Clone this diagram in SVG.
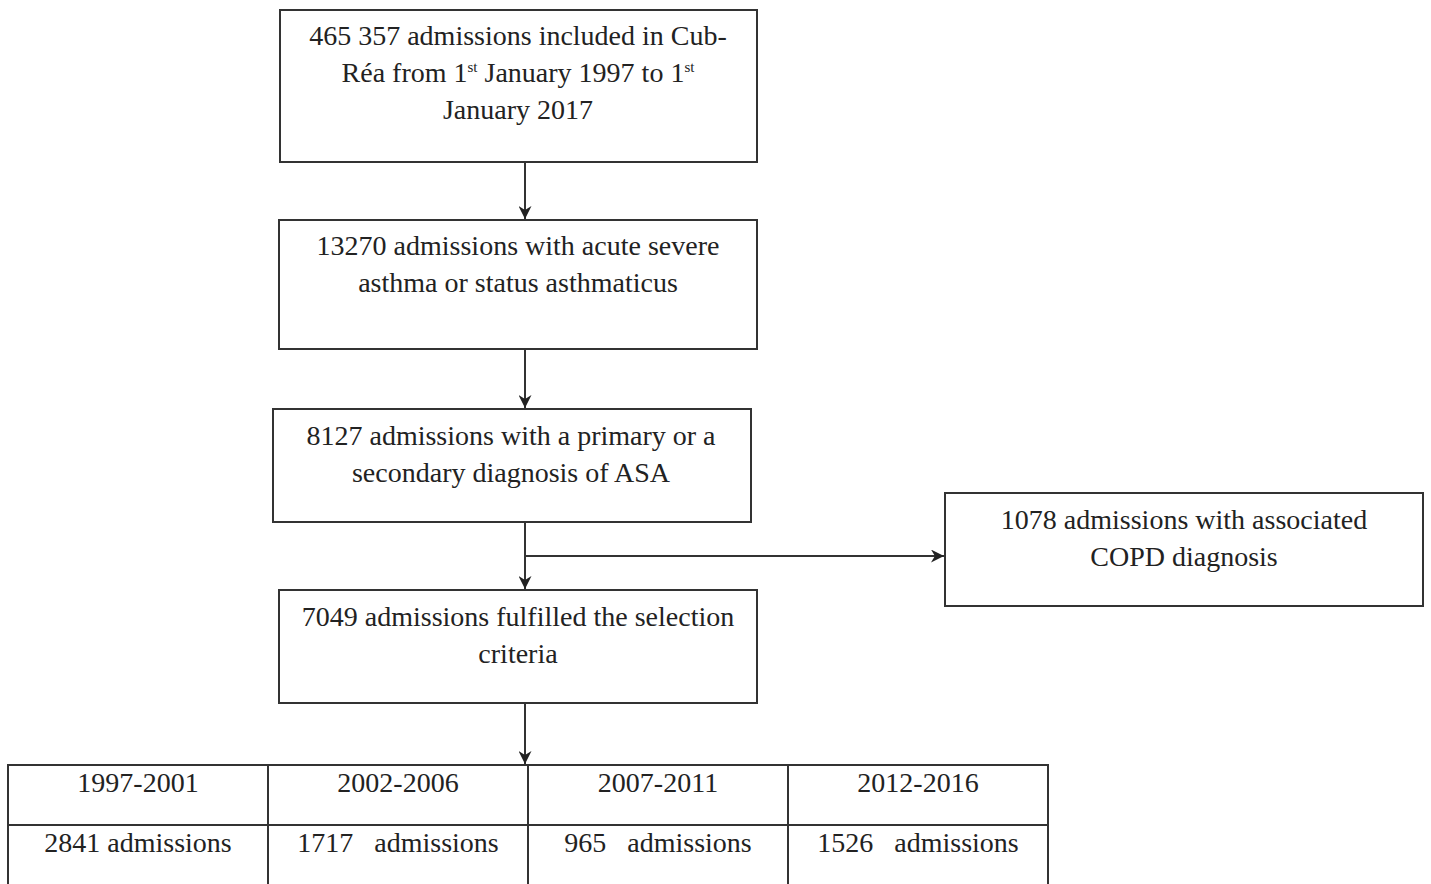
<svg xmlns="http://www.w3.org/2000/svg" width="1431" height="884" viewBox="0 0 1431 884">
<style>
.box{fill:#fff;stroke:#333;stroke-width:2}
.t{font-family:"Liberation Serif","Times New Roman",serif;font-size:28px;fill:#222;text-anchor:middle}
.sup{font-size:15px}
.ln{stroke:#333;stroke-width:2;fill:none}
</style>
<defs>
<marker id="ah" viewBox="0 0 10 10" refX="10" refY="5" markerWidth="14" markerHeight="13" markerUnits="userSpaceOnUse" orient="auto">
<path d="M0,0 L10,5 L0,10 L3,5 Z" fill="#222"/>
</marker>
</defs>
<rect width="1431" height="884" fill="#fff"/>
<g id="connectors">
<line class="ln" x1="525" y1="162" x2="525" y2="219" marker-end="url(#ah)"/>
<line class="ln" x1="525" y1="349" x2="525" y2="408" marker-end="url(#ah)"/>
<line class="ln" x1="525" y1="522" x2="525" y2="589" marker-end="url(#ah)"/>
<line class="ln" x1="525" y1="556" x2="944" y2="556" marker-end="url(#ah)"/>
<line class="ln" x1="525" y1="703" x2="525" y2="764" marker-end="url(#ah)"/>
</g>
<g id="n1">
<rect class="box" x="280" y="10" width="477" height="152"/>
<text class="t" x="518" y="45">465 357 admissions included in Cub-</text>
<text class="t" x="518" y="82">Réa from 1<tspan class="sup" dy="-10">st</tspan><tspan dy="10"> January 1997 to 1</tspan><tspan class="sup" dy="-10">st</tspan></text>
<text class="t" x="518" y="119">January 2017</text>
</g>
<g id="n2">
<rect class="box" x="279" y="220" width="478" height="129"/>
<text class="t" x="518" y="255">13270 admissions with acute severe</text>
<text class="t" x="518" y="292">asthma or status asthmaticus</text>
</g>
<g id="n3">
<rect class="box" x="273" y="409" width="478" height="113"/>
<text class="t" x="511" y="445">8127 admissions with a primary or a</text>
<text class="t" x="511" y="482">secondary diagnosis of ASA</text>
</g>
<g id="n4">
<rect class="box" x="945" y="493" width="478" height="113"/>
<text class="t" x="1184" y="529">1078 admissions with associated</text>
<text class="t" x="1184" y="566">COPD diagnosis</text>
</g>
<g id="n5">
<rect class="box" x="279" y="590" width="478" height="113"/>
<text class="t" x="518" y="626">7049 admissions fulfilled the selection</text>
<text class="t" x="518" y="663">criteria</text>
</g>
<g id="table">
<rect class="box" x="8" y="765" width="1040" height="130"/>
<line class="ln" x1="8" y1="825" x2="1048" y2="825"/>
<line class="ln" x1="268" y1="765" x2="268" y2="884"/>
<line class="ln" x1="528" y1="765" x2="528" y2="884"/>
<line class="ln" x1="788" y1="765" x2="788" y2="884"/>
<text class="t" x="138" y="792">1997-2001</text>
<text class="t" x="398" y="792">2002-2006</text>
<text class="t" x="658" y="792">2007-2011</text>
<text class="t" x="918" y="792">2012-2016</text>
<text class="t" x="138" y="852">2841 admissions</text>
<text class="t" x="398" y="852" xml:space="preserve">1717   admissions</text>
<text class="t" x="658" y="852" xml:space="preserve">965   admissions</text>
<text class="t" x="918" y="852" xml:space="preserve">1526   admissions</text>
</g>
</svg>
